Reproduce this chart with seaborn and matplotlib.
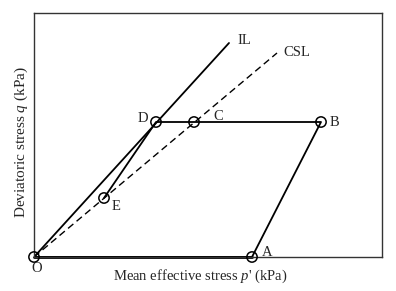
import pandas as pd
import numpy as np
import seaborn as sns
import matplotlib.pyplot as plt

sns.set_theme(style='white')
plt.rcParams['font.family'] = ['Liberation Serif', 'DejaVu Serif']
plt.rcParams['mathtext.fontset'] = 'custom'
plt.rcParams['mathtext.it'] = 'Liberation Serif:italic'
plt.rcParams['mathtext.rm'] = 'Liberation Serif'

# stress path points (arbitrary units, no ticks in the original)
point_names = ['O', 'A', 'B', 'C', 'D', 'E']
point_p = [0, 218, 287, 160, 122, 70]
point_q = [0, 0, 135, 135, 135, 59]

# path followed: O -> A -> B -> C -> D -> E
path_names = ['O', 'A', 'B', 'C', 'D', 'E']

# lines through origin
il_p = [0, 195]
il_q = [0, 214]
csl_p = [0, 243]
csl_q = [0, 204]

pts = pd.DataFrame({'name': point_names, 'p': point_p, 'q': point_q}).set_index('name')
path = pts.loc[path_names].reset_index()

fig = plt.figure(figsize=(3.96, 2.91), dpi=100)
ax = fig.add_axes([34/396, 1-257/291, 348/396, 244/291])

sns.lineplot(x='p', y='q', data=path, sort=False, estimator=None, color='black', lw=1.3, ax=ax)
sns.lineplot(x=il_p, y=il_q, sort=False, estimator=None, color='black', lw=1.3, ax=ax)
sns.lineplot(x=csl_p, y=csl_q, sort=False, estimator=None, color='black', lw=1.0, ls=(0, (5, 3)), ax=ax)
# thicker bottom O-A segment
sns.lineplot(x=[0, 218], y=[0, 0], sort=False, estimator=None, color='black', lw=2.0, ax=ax, clip_on=False)
sns.scatterplot(x='p', y='q', data=pts.reset_index(), s=55, facecolor='none', edgecolor='black',
                linewidth=1.1, ax=ax, clip_on=False, zorder=5)

fs = 10.5
offsets = {'O': (-3, -11), 'A': (10, 5), 'B': (9, 0), 'C': (19, 5), 'D': (-18, 3), 'E': (8, -8)}
for n, (dx, dy) in offsets.items():
    ax.text(pts.loc[n, 'p'] + dx, pts.loc[n, 'q'] + dy, n, fontsize=fs, ha='left', va='center', clip_on=False)
ax.text(il_p[1] + 8, il_q[1] + 3, 'IL', fontsize=fs, ha='left', va='center')
ax.text(csl_p[1] + 6, csl_q[1] + 1, 'CSL', fontsize=fs, ha='left', va='center')

ax.set_xlim(0, 348)
ax.set_ylim(0, 244)
ax.set_xticks([])
ax.set_yticks([])
for s in ax.spines.values():
    s.set_color('#333333')
    s.set_linewidth(1.0)

ax.set_xlabel("Mean effective stress $p$' (kPa)", fontsize=10.5)
ax.set_ylabel('Deviatoric stress $q$ (kPa)', fontsize=11)
ax.xaxis.set_label_coords(0.477, -0.045)
ax.yaxis.set_label_coords(-0.012, 0.471)

plt.savefig('out.png', dpi=100)
